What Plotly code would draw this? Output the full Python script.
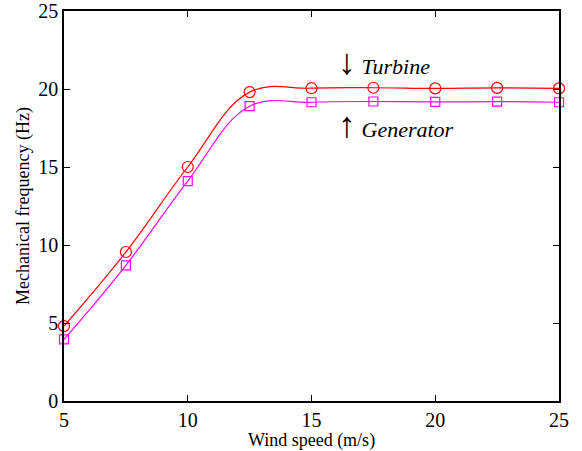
import plotly.graph_objects as go

wind_speed = [5, 7.5, 10, 12.5, 15, 17.5, 20, 22.5, 25]
turbine = [4.8, 9.55, 15.0, 19.8, 20.05, 20.08, 20.04, 20.07, 20.04]
generator = [3.95, 8.7, 14.1, 18.9, 19.15, 19.2, 19.17, 19.19, 19.15]
x_ticks = [5, 10, 15, 20, 25]
y_ticks = [0, 5, 10, 15, 20, 25]

font = "Liberation Serif"

fig = go.Figure()
fig.add_trace(go.Scatter(
    x=wind_speed, y=turbine, mode="lines+markers",
    line=dict(color="#ff0000", width=1.2, shape="spline", smoothing=1.1),
    marker=dict(symbol="circle-open", size=11, color="#ff0000", line=dict(width=1.2)),
    showlegend=False, cliponaxis=False))
fig.add_trace(go.Scatter(
    x=wind_speed, y=generator, mode="lines+markers",
    line=dict(color="#ff00ff", width=1.2, shape="spline", smoothing=1.1),
    marker=dict(symbol="square-open", size=9, color="#ff00ff", line=dict(width=1.2)),
    showlegend=False, cliponaxis=False))

axis_common = dict(showgrid=False, zeroline=False, showline=True, linecolor="black",
                   linewidth=1.5, mirror="ticks", ticks="inside", ticklen=6,
                   tickcolor="black", automargin=False,
                   tickfont=dict(family=font, size=20, color="black"))
fig.update_xaxes(range=[5, 25], tickvals=x_ticks,
                 title=dict(text="Wind speed (m/s)", font=dict(family=font, size=18, color="black"),
                            standoff=0), **axis_common)
fig.update_yaxes(range=[0, 25], tickvals=y_ticks,
                 title=dict(text="Mechanical frequency (Hz)", font=dict(family=font, size=18, color="black"),
                            standoff=4), **axis_common)

arrow_style = "font-size:36px;font-family:Liberation Serif"
fig.add_annotation(x=16.0, y=21.75, xref="x", yref="y",
                   text=f"<span style='{arrow_style}'>↓</span> <i>Turbine</i>",
                   showarrow=False, xanchor="left", yanchor="middle",
                   font=dict(family=font, size=22, color="black"))
fig.add_annotation(x=16.0, y=17.7, xref="x", yref="y",
                   text=f"<span style='{arrow_style}'>↑</span> <i>Generator</i>",
                   showarrow=False, xanchor="left", yanchor="middle",
                   font=dict(family=font, size=22, color="black"))

fig.update_layout(width=582, height=451, margin=dict(l=64, r=23, t=11, b=50),
                  plot_bgcolor="white", paper_bgcolor="white")
fig.write_html("out.html")
